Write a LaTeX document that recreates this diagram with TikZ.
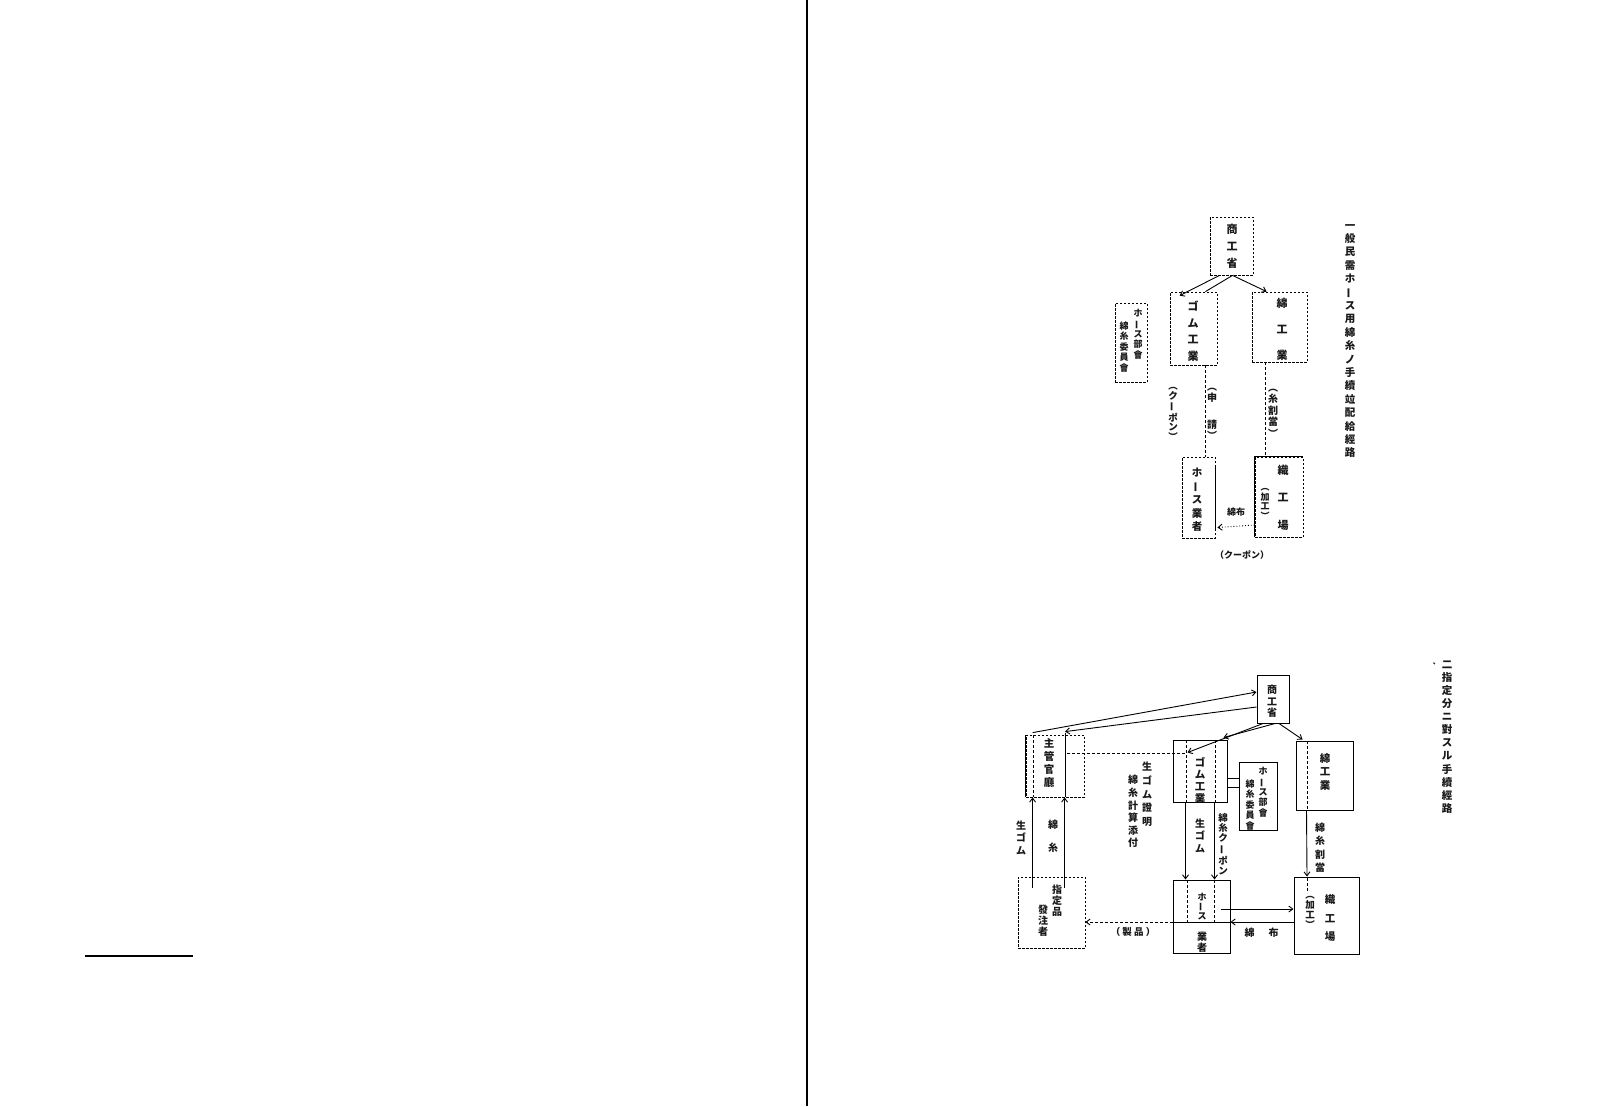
\documentclass[tikz,border=0pt]{standalone}
\usepackage{fontspec}
\usepackage{graphicx}
\setmainfont{Noto Sans CJK JP}
\usetikzlibrary{arrows.meta,calc}
\newcommand\myfs[2]{\fontsize{#1pt}{#2pt}\selectfont}
\newcommand\vbar{\rotatebox[origin=c]{90}{ー}}
\begin{document}
\begin{tikzpicture}[x=1pt,y=-1pt,
  sbox/.style={draw, line width=1pt, inner sep=0pt},
  dbox/.style={draw, line width=0.8pt, dash pattern=on 2.5pt off 1.5pt, inner sep=0pt},
  vt/.style={inner sep=0pt, align=center, text=black!90},
  ln/.style={line width=0.9pt},
  dln/.style={line width=0.8pt, dash pattern=on 3pt off 2pt},
  arr/.style={line width=0.9pt, -{Straight Barb[length=4pt,width=6pt]}}]
\useasboundingbox (0,0) rectangle (1616,1106);
\fill[white] (0,0) rectangle (1616,1106);
% page elements
\draw[line width=1.6pt] (807,0) -- (807,1106);
\draw[line width=1.3pt] (85,956) -- (193,956);

% ================= TOP DIAGRAM =================
\node[dbox, minimum width=43, minimum height=58] (tsho) at (1231.5,246) {};
\node[vt, font=\myfs{11}{17}\bfseries] (tshoT) at (1232,246) {商\\工\\省};
\node[dbox, minimum width=47, minimum height=73] (tgom) at (1193.5,328.5) {};
\node[vt, font=\myfs{11}{16.5}\bfseries] (tgomT) at (1193,331) {ゴ\\ム\\工\\業};
\node[dbox, minimum width=55, minimum height=70] (tmen) at (1279.5,327) {};
\node[vt, font=\myfs{11}{26}\bfseries] (tmenT) at (1282,329) {綿\\工\\業};
\node[dbox, minimum width=32, minimum height=79] (tbu) at (1131,342.5) {};
\node[vt, font=\myfs{9}{10.5}\bfseries] (tbuA) at (1138,334) {ホ\\\vbar\\ス\\部\\會};
\node[vt, font=\myfs{9}{10.5}\bfseries] (tbuB) at (1124,347) {綿\\糸\\委\\員\\會};

\node[dbox, minimum width=33, minimum height=81] (thos) at (1198.5,497.5) {};
\node[vt, font=\myfs{10.5}{13.5}\bfseries] (thosT) at (1197,500) {ホ\\\vbar\\ス\\業\\者};
\draw[ln] ($(thos.north east)+(0,10)$) -- ($(thos.south east)+(0,-8)$);
\node[dbox, minimum width=48, minimum height=80] (tshk) at (1279,497) {};
\draw[ln] (tshk.south west) -- (tshk.north west) -- (tshk.north east);
\node[vt, font=\myfs{11}{27.5}\bfseries] (tshkT) at (1283,497.5) {織\\工\\場};
\node[vt, font=\myfs{9}{9.5}\bfseries] (tshkK) at (1265,504) {︵\\加\\工\\︶};

\node[vt, font=\myfs{9.5}{9.8}\bfseries] (tcp) at (1173,414) {︵\\ク\\\vbar\\ポ\\ン\\︶};
\node[vt, font=\myfs{10}{11}\bfseries] (tsin) at (1212,414) {︵\\申\\[16pt]請\\︶};
\node[vt, font=\myfs{10}{11.5}\bfseries] (tito) at (1273,413) {︵\\糸\\割\\當\\︶};
\node[vt, font=\myfs{9}{9}\bfseries] (tmenpu) at (1236,512) {綿布};
\node[vt, font=\myfs{9}{9}\bfseries] (tcp2) at (1242,555) {（クーポン）};
\node[vt, font=\myfs{10.5}{13.4}\bfseries] (ttitle) at (1350,341)
  {一\\般\\民\\需\\ホ\\\vbar\\ス\\用\\綿\\糸\\ノ\\手\\續\\竝\\配\\給\\經\\路};

\draw[arr] ($(tsho.south)+(-12,0)$) -- ($(tgom.north west)+(10,4)$);
\draw[ln] ($(tsho.south)+(1,0)$) -- ($(tgom.north east)+(-12,0)$);
\draw[arr] ($(tsho.south)+(1,0)$) -- ($(tmen.north west)+(15,0)$);
\draw[dln] ($(tgom.south)+(11.5,0)$) -- ($(thos.north)+(6.5,0)$);
\draw[dln] ($(tmen.south)+(-14.5,0)$) -- ($(tshk.north)+(-14,0)$);
\draw[arr, dotted] ($(tshk.west)+(0,28)$) -- ($(thos.east)+(2,30)$);

% ================= BOTTOM DIAGRAM =================
\node[sbox, minimum width=32, minimum height=48] (bsho) at (1273,699) {};
\node[vt, font=\myfs{10}{11.5}\bfseries] (bshoT) at (1272,701.5) {商\\工\\省};
\node[dbox, minimum width=58, minimum height=62] (bshu) at (1055,766) {};
\draw[ln] (bshu.north west) -- (bshu.south west);
\draw[dln] (1033,735) -- (1033,797);
\draw[ln] (1065,733) -- (1065,797);
\node[vt, font=\myfs{10.5}{13}\bfseries] (bshuT) at (1049,762.5) {主\\管\\官\\廳};
\node[sbox, minimum width=54, minimum height=62] (bgom) at (1200,771) {};
\draw[dln] (1186,740) -- (1186,802);
\draw[dln] (1215,740) -- (1215,802);
\node[vt, font=\myfs{10.5}{12}\bfseries] (bgomT) at (1200,780) {ゴ\\ム\\工\\業};
\node[sbox, minimum width=38, minimum height=68] (bbu) at (1258,796) {};
\node[vt, font=\myfs{9}{10.5}\bfseries] (bbuA) at (1263,792) {ホ\\\vbar\\ス\\部\\會};
\node[vt, font=\myfs{9}{10.5}\bfseries] (bbuB) at (1250,805) {綿\\糸\\委\\員\\會};
\node[sbox, minimum width=57, minimum height=69] (bmen) at (1324.5,775.5) {};
\draw[dln] (1307,741) -- (1307,810);
\node[vt, font=\myfs{10.5}{13.5}\bfseries] (bmenT) at (1325,771.5) {綿\\工\\業};
\node[sbox, minimum width=65, minimum height=77] (bshk) at (1326.5,915.5) {};
\draw[dln] (1307.5,878) -- (1307.5,893);
\node[vt, font=\myfs{10.5}{18.5}\bfseries] (bshkT) at (1330,918.5) {織\\工\\場};
\node[vt, font=\myfs{9.5}{10}\bfseries] (bshkK) at (1310,912) {︵\\加\\工\\︶};
\node[sbox, minimum width=57, minimum height=73] (bhos) at (1201.5,916.5) {};
\draw[dln] (1187,880) -- (1187,922);
\draw[dln] (1214,880) -- (1214,922);
\draw[ln] ($(bhos.west)+(0,5.5)$) -- ($(bhos.east)+(0,5.5)$);
\node[vt, font=\myfs{9}{8.5}\bfseries] (bhosA) at (1202,906.5) {ホ\\\vbar\\ス};
\node[vt, font=\myfs{10}{11}\bfseries] (bhosB) at (1202,942) {業\\者};
\node[dbox, minimum width=67, minimum height=71] (bshi) at (1051.5,912.5) {};
\node[vt, font=\myfs{10}{11}\bfseries] (bshiA) at (1057,901) {指\\定\\品};
\node[vt, font=\myfs{10}{11}\bfseries] (bshiB) at (1043,921) {發\\注\\者};

% labels
\node[vt, font=\myfs{10}{12.5}\bfseries] (bl1) at (1021,837.5) {生\\ゴ\\ム};
\node[vt, font=\myfs{10}{23}\bfseries] (bl2) at (1053,836.5) {綿\\糸};
\node[vt, font=\myfs{10}{13.7}\bfseries] (bl3) at (1147,794.5) {生\\ゴ\\ム\\證\\明};
\node[vt, font=\myfs{10}{12.6}\bfseries] (bl4) at (1133,811.5) {綿\\糸\\計\\算\\添\\付};
\node[vt, font=\myfs{10}{12.5}\bfseries] (bl5) at (1200,835.5) {生\\ゴ\\ム};
\node[vt, font=\myfs{9.5}{10.4}\bfseries] (bl6) at (1223,844) {綿\\糸\\ク\\\vbar\\ポ\\ン};
\node[vt, font=\myfs{10}{13.5}\bfseries] (bl7) at (1320,847.5) {綿\\糸\\割\\當};
\node[vt, font=\myfs{10}{10}\bfseries] (bl8) at (1261.5,933) {綿\hspace{14pt}布};
\node[vt, font=\myfs{9.5}{10}\bfseries] (bl9) at (1133,932) {（ 製 品 ）};
\node[vt, font=\myfs{10.5}{13.1}\bfseries] (btitle) at (1447,737)
  {二\\指\\定\\分\\ニ\\對\\ス\\ル\\手\\續\\經\\路};
\node[vt, font=\myfs{7}{7}\bfseries, anchor=south east] (btick) at (1440,665) {、};

% connectors
\draw[arr] ($(bshu.north west)+(7,-2)$) -- ($(bsho.west)+(0,-7)$);
\draw[arr] ($(bsho.west)+(0,8)$) -- ($(bshu.north)+(10,-3)$);
\draw[arr] ($(bsho.south)+(-10,0)$) -- ($(bgom.north west)+(15,13)$);
\draw[arr] ($(bsho.south)+(2,0)$) -- ($(bgom.north east)+(-4,-2)$);
\draw[arr] ($(bsho.south)+(6,0)$) -- ($(bmen.north west)+(7,-1)$);
\draw[dln] ($(bshu.east)+(-17,-13)$) -- ($(bgom.west)+(13,-18)$);
\draw[arr] ($(bshi.north west)+(15,11)$) -- ($(bshu.south west)+(7,0)$);
\draw[arr] ($(bshi.north west)+(47,11)$) -- ($(bshu.south west)+(39,0)$);
\draw[arr] ($(bgom.south west)+(13,0)$) -- ($(bhos.north west)+(13,0)$);
\draw[arr] ($(bgom.south west)+(42,0)$) -- ($(bhos.north west)+(42,0)$);
\draw[ln] ($(bgom.east)+(0,7)$) -- ($(bbu.west)+(0,-18)$);
\draw[ln] ($(bgom.east)+(0,16)$) -- ($(bbu.west)+(0,-9)$);
\draw[arr] ($(bmen.south west)+(11,0)$) -- ($(bshk.north west)+(13.5,0)$);
\draw[arr] ($(bhos.east)+(-10,-7.5)$) -- ($(bshk.west)+(0,-6.5)$);
\draw[arr] ($(bshk.west)+(0,6.5)$) -- ($(bhos.east)+(0,5.5)$);
\draw[arr, dash pattern=on 3pt off 2pt] ($(bhos.west)+(0,5.5)$) -- ($(bshi.east)+(0,9.5)$);
\end{tikzpicture}
\end{document}
